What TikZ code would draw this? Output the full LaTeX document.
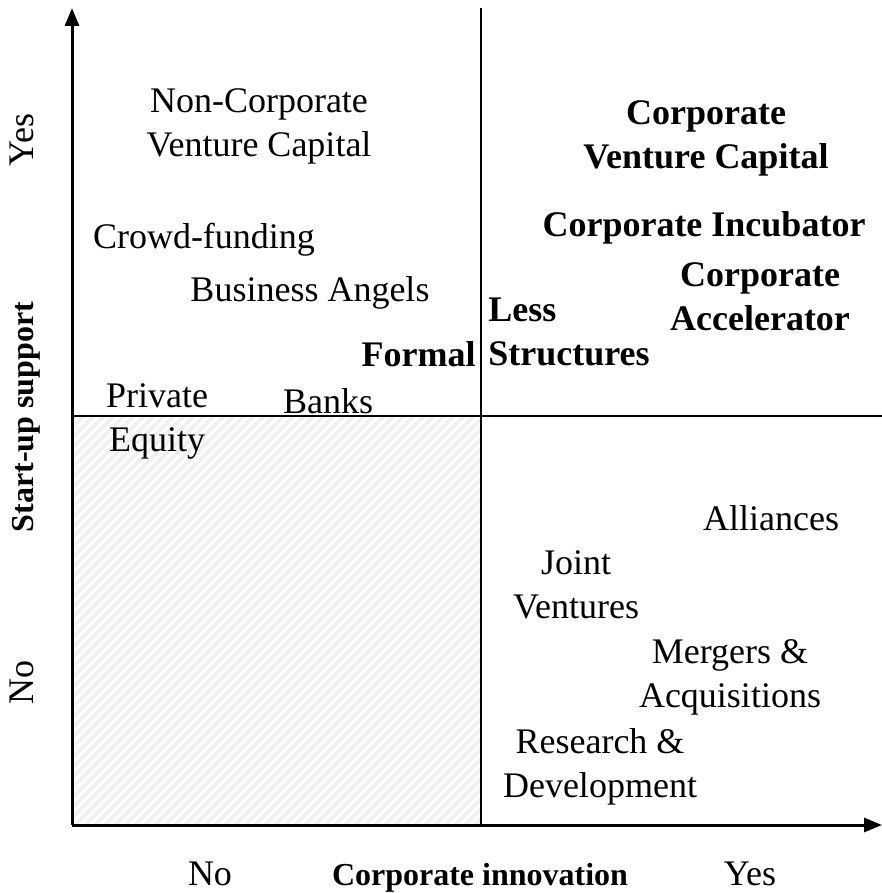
\documentclass[tikz,border=0pt]{standalone}
\usepackage{fontspec}
\setmainfont{Liberation Serif}
\usetikzlibrary{arrows.meta}
\begin{document}
\begin{tikzpicture}[
		x=0.5pt,y=-0.5pt,
		font=\fontsize{18}{22}\selectfont,
		axis/.style = {line width=1.5pt, -{Triangle[length=9pt,width=7pt]}},
		divider/.style = {line width=1pt},
		hatch/.style = {line width=1.8pt, black!6},
		entry/.style = {align=center, inner sep=0pt},
		strong/.style = {entry, font=\fontsize{18}{22}\selectfont\bfseries},
		axislabel/.style = {rotate=90, inner sep=0pt, anchor=base},
		axistitle/.style = {inner sep=0pt, anchor=base, font=\fontsize{16}{20}\selectfont\bfseries}
	]
	\useasboundingbox (0,0) rectangle (882,893);
	% shaded quadrant (no / no)
	\begin{scope}
		\clip (72,416) rectangle (481,825);
		\foreach \c in {480,490,...,1320}
			\draw [hatch] (\c,0) -- ++(-900,900);
	\end{scope}

	\coordinate (origin) at (72,825);
	\coordinate (ytop) at (72,8);
	\coordinate (xend) at (882,825);
	\coordinate (midtop) at (481,8);
	\coordinate (midbot) at (481,825);
	\coordinate (midleft) at (72,416);
	\coordinate (midright) at (882,416);

	\draw [divider] (midtop) -- (midbot);
	\draw [divider] (midleft) -- (midright);
	\draw [axis] (origin) -- (ytop);
	\draw [axis] (origin) -- (xend);

	% axis labels
	\node (yyes) [axislabel] at (33,140) {Yes};
	\node (ylabel) [axistitle, rotate=90] at (33,417) {Start-up support};
	\node (yno) [axislabel] at (33,682) {No};
	\node (xno) [inner sep=0pt, anchor=base] at (210,885) {No};
	\node (xlabel) [axistitle] at (480,885) {Corporate innovation};
	\node (xyes) [inner sep=0pt, anchor=base] at (750,885) {Yes};

	% upper left
	\node (ncvc) [entry] at (259,126) {Non-Corporate\\Venture Capital};
	\node (crowd) [entry] at (204,240) {Crowd-funding};
	\node (angels) [entry] at (310,293) {Business Angels};
	\node (private) [entry] at (157,421) {Private\\Equity};
	\node (banks) [entry] at (328,401) {Banks};
	\node (formal) [strong, anchor=base east] at (476,366) {Formal};

	% upper right
	\node (less) [strong, align=left] at (569,332) {Less\\Structures};
	\node (cvc) [strong] at (706,138) {Corporate\\Venture Capital};
	\node (incub) [strong] at (704,228) {Corporate Incubator};
	\node (accel) [strong] at (760,297) {Corporate\\Accelerator};

	% lower right
	\node (alliances) [entry] at (771,518) {Alliances};
	\node (jv) [entry] at (576,585) {Joint\\Ventures};
	\node (ma) [entry] at (730,677) {Mergers \&\\Acquisitions};
	\node (rd) [entry] at (600,767) {Research \&\\Development};
\end{tikzpicture}
\end{document}
